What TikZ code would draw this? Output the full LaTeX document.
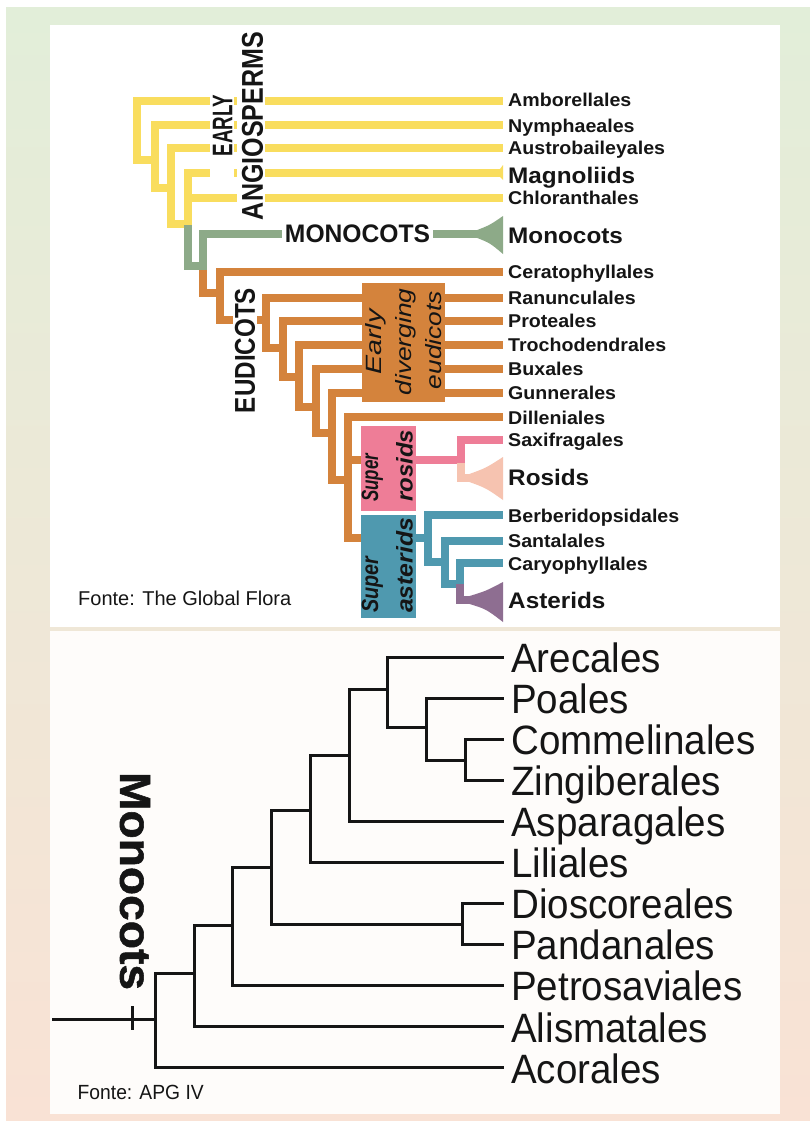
\documentclass[tikz,border=0pt]{standalone}
\usepackage{fontspec}
\usepackage{graphicx}
\setmainfont{Liberation Sans}
\newfontfamily\labfont[FakeStretch=1.06]{Liberation Sans}
\newfontfamily\bigfont[FakeStretch=1.08]{Liberation Sans}
\newfontfamily\narrowfont[FakeStretch=0.94]{Liberation Sans}
\newfontfamily\heavyfont[FakeBold=1.2]{Liberation Sans Bold}

\definecolor{ylw}{HTML}{F9DD5E}
\definecolor{sage}{HTML}{8DAA88}
\definecolor{ochre}{HTML}{D4833C}
\definecolor{rosepk}{HTML}{EE7D97}
\definecolor{salmon}{HTML}{F6C3B0}
\definecolor{tealb}{HTML}{4F99AF}
\definecolor{mauve}{HTML}{8E6E91}
\definecolor{bgtop}{HTML}{E2EED9}
\definecolor{bgmid}{HTML}{EEE7D6}
\definecolor{bgbot}{HTML}{F9E2D5}
\definecolor{panelb}{HTML}{FEFCFA}
\definecolor{ink}{HTML}{151515}

\begin{document}
\begin{tikzpicture}[x=1pt,y=-1pt,
  br/.style={line width=7.5pt, line cap=rect, line join=miter},
  bk/.style={line width=3pt, line cap=rect, line join=miter, draw=ink},
  tiplab/.style={anchor=west, inner sep=0pt, text=ink,
    font=\labfont\bfseries\fontsize{18.5}{19}\selectfont,
    text height=13.2pt, text depth=0pt},
  biglab/.style={tiplab, font=\bigfont\bfseries\fontsize{22.5}{24}\selectfont,
    text height=16.1pt},
  orderlab/.style={anchor=west, inner sep=0pt, text=ink,
    font=\narrowfont\fontsize{41}{44}\selectfont,
    text height=29.4pt, text depth=0pt},
  cladetxt/.style={inner sep=0pt, text=ink},
  boxtxt/.style={rotate=90, inner sep=0pt, text=ink},
  whitegap/.style={fill=white, draw=none}
]
\useasboundingbox (0,0) rectangle (810,1121);

% ---------- background and panels ----------
\fill[white] (0,0) rectangle (810,1121);
\shade[top color=bgtop, middle color=bgmid, bottom color=bgbot] (6,8) rectangle (810,1121);
\fill[white] (50,25) rectangle (780,627);
\fill[panelb] (50,631) rectangle (780,1114);

% ================= upper tree =================
% tip labels
\node[tiplab] (l-ambo)   at (508,100) {Amborellales};
\node[tiplab] (l-nymph)  at (508,126) {Nymphaeales};
\node[tiplab] (l-austro) at (508,148) {Austrobaileyales};
\node[biglab] (l-magn)   at (508,175) {Magnoliids};
\node[tiplab] (l-chlor)  at (508,198) {Chloranthales};
\node[biglab] (l-mono)   at (508,235) {Monocots};
\node[tiplab] (l-cerat)  at (508,272) {Ceratophyllales};
\node[tiplab] (l-ranun)  at (508,298) {Ranunculales};
\node[tiplab] (l-prot)   at (508,321) {Proteales};
\node[tiplab] (l-troch)  at (508,345) {Trochodendrales};
\node[tiplab] (l-bux)    at (508,369) {Buxales};
\node[tiplab] (l-gunn)   at (508,393) {Gunnerales};
\node[tiplab] (l-dill)   at (508,418) {Dilleniales};
\node[tiplab] (l-saxi)   at (508,440) {Saxifragales};
\node[biglab] (l-ros)    at (508,477) {Rosids};
\node[tiplab] (l-berb)   at (508,516) {Berberidopsidales};
\node[tiplab] (l-sant)   at (508,541) {Santalales};
\node[tiplab] (l-cary)   at (508,564) {Caryophyllales};
\node[biglab] (l-ast)    at (508,600) {Asterids};

% branch tips
\coordinate (ambo)   at (499.25,101);
\coordinate (nymph)  at (499.25,125);
\coordinate (austro) at (499.25,148);
\coordinate (magn)   at (496,173);
\coordinate (chlor)  at (499.25,198);
\coordinate (cerat)  at (499.25,272);
\coordinate (ranun)  at (499.25,298);
\coordinate (prot)   at (499.25,321);
\coordinate (troch)  at (499.25,345);
\coordinate (bux)    at (499.25,369);
\coordinate (gunn)   at (499.25,393);
\coordinate (dill)   at (499.25,417);
\coordinate (saxi)   at (499.25,440);
\coordinate (berb)   at (499.25,515);
\coordinate (sant)   at (499.25,541);
\coordinate (cary)   at (499.25,563);
\coordinate (monoapex) at (478,234);
\coordinate (rosapex)  at (470,478);
\coordinate (astapex)  at (470,600);

% inner nodes
\coordinate (A) at (137,130);
\coordinate (B) at (155,160);
\coordinate (C) at (171,188);
\coordinate (D) at (188,224);
\coordinate (Dsplit) at (188,229);
\coordinate (MD) at (203,266);
\coordinate (E) at (220,293);
\coordinate (F) at (266,320);
\coordinate (G) at (283,348);
\coordinate (H) at (299,377);
\coordinate (I) at (316,407);
\coordinate (J) at (332,433);
\coordinate (K) at (348,480);
\coordinate (srin)  at (364,460);
\coordinate (srout) at (414,460);
\coordinate (R1)    at (461,460);
\coordinate (Rsplit) at (461,467);
\coordinate (sain)  at (364,538);
\coordinate (saout) at (414,538);
\coordinate (S1) at (428,538);
\coordinate (S2) at (445,562);
\coordinate (S3) at (460,584);
\coordinate (Asplit) at (460,588);

% early angiosperms
\draw[br,ylw] (ambo) -| (A |- B) -- (B);
\draw[br,ylw] (nymph) -| (B |- C) -- (C);
\draw[br,ylw] (austro) -| (C |- D) -- (D);
\draw[br,ylw] (magn) -| (Dsplit);
\draw[br,ylw] (D |- chlor) -- (chlor);
\fill[ylw] (494,171) .. controls (499,170.5) .. (503,165) -- (503,180)
  .. controls (499,175.5) .. (494,175) -- cycle;

% eudicots
\draw[br,ochre] (MD) -- (MD |- E) -- (E);
\draw[br,ochre] (cerat) -| (E |- F) -- (F);
\draw[br,ochre] (ranun) -| (F |- G) -- (G);
\draw[br,ochre] (prot) -| (G |- H) -- (H);
\draw[br,ochre] (troch) -| (H |- I) -- (I);
\draw[br,ochre] (bux) -| (I |- J) -- (J);
\draw[br,ochre] (gunn) -| (J |- K) -- (K);
\draw[br,ochre] (dill) -| (K |- sain) -- (sain);
\draw[br,ochre] (K |- srin) -- (srin);

% monocots
\draw[br,sage] (Dsplit) -- (D |- MD) -- (MD);
\draw[br,sage] (monoapex) -| (MD);
\fill[sage] (476,230.5) .. controls (490,225) .. (503,216) -- (503,254)
  .. controls (490,243) .. (476,237.5) -- cycle;

% superrosids
\draw[br,rosepk] (srout) -- (R1);
\draw[br,rosepk] (saxi) -| (Rsplit);
\draw[br,salmon] (Rsplit) -- (R1 |- rosapex) -- (rosapex);
\fill[salmon] (468,474.5) .. controls (486,468) .. (503,457) -- (503,500)
  .. controls (486,488) .. (468,481.5) -- cycle;

% superasterids
\draw[br,tealb] (saout) -- (S1);
\draw[br,tealb] (berb) -| (S1 |- S2) -- (S2);
\draw[br,tealb] (sant) -| (S2 |- S3) -- (S3);
\draw[br,tealb] (cary) -| (Asplit);
\draw[br,mauve] (Asplit) -- (S3 |- astapex) -- (astapex);
\fill[mauve] (468,596.5) .. controls (486,591) .. (503,582) -- (503,622)
  .. controls (486,609) .. (468,603.5) -- cycle;

% breaks behind the clade names
\fill[whitegap] (210,91) rectangle (234,180);
\fill[whitegap] (237,28) rectangle (265,224);
\fill[whitegap] (282,224) rectangle (433,244);
\fill[whitegap] (233,285) rectangle (257,416);

% clade names
\node[cladetxt, rotate=90] (early) at (222.5,125.5) {\resizebox{62pt}{19.5pt}{\bfseries EARLY}};
\node[cladetxt, rotate=90] (angio) at (252.5,126) {\resizebox{188pt}{21pt}{\bfseries ANGIOSPERMS}};
\node[cladetxt] (mononame) at (357.5,234) {\resizebox{145pt}{17.7pt}{\bfseries MONOCOTS}};
\node[cladetxt, rotate=90] (eudi) at (245,350.5) {\resizebox{125pt}{20pt}{\bfseries EUDICOTS}};

% coloured group boxes
\node[fill=ochre, minimum width=83pt, minimum height=119pt, inner sep=0pt] (edbox) at (403.5,342.5) {};
\node[fill=rosepk, minimum width=55pt, minimum height=85pt, inner sep=0pt] (srbox) at (388.5,468.5) {};
\node[fill=tealb, minimum width=55pt, minimum height=103pt, inner sep=0pt] (sabox) at (388.5,566.5) {};

\node[boxtxt, anchor=base] (ed1) at (381,342) {\resizebox{65pt}{16pt}{\itshape Early}};
\node[boxtxt, anchor=base] (ed2) at (411,342) {\resizebox{107pt}{16pt}{\itshape diverging}};
\node[boxtxt, anchor=base] (ed3) at (441,340) {\resizebox{98pt}{16pt}{\itshape eudicots}};
\node[boxtxt, anchor=base west] (sr1) at (378,502) {\resizebox{48pt}{16.5pt}{\bfseries\itshape Super}};
\node[boxtxt, anchor=base west] (sr2) at (412.5,502) {\resizebox{72pt}{16.5pt}{\bfseries\itshape rosids}};
\node[boxtxt, anchor=base west] (sa1) at (378,613) {\resizebox{56pt}{16.5pt}{\bfseries\itshape Super}};
\node[boxtxt, anchor=base west] (sa2) at (412.5,613) {\resizebox{95pt}{16.5pt}{\bfseries\itshape asterids}};

\node[anchor=base west, inner sep=0pt, text=ink, font=\fontsize{20}{22}\selectfont] (src1) at (78,605) {Fonte: The Global Flora};

% ================= lower tree =================
\node[orderlab] (o-arec) at (511,658)    {Arecales};
\node[orderlab] (o-poal) at (511,699)    {Poales};
\node[orderlab] (o-comm) at (511,740)    {Commelinales};
\node[orderlab] (o-zing) at (511,781)    {Zingiberales};
\node[orderlab] (o-aspa) at (511,822)    {Asparagales};
\node[orderlab] (o-lili) at (511,863)    {Liliales};
\node[orderlab] (o-dios) at (511,904)    {Dioscoreales};
\node[orderlab] (o-pand) at (511,945)    {Pandanales};
\node[orderlab] (o-petr) at (511,986)    {Petrosaviales};
\node[orderlab] (o-alis) at (511,1027.5) {Alismatales};
\node[orderlab] (o-acor) at (511,1068.5) {Acorales};

\coordinate (arec) at (502.5,657);
\coordinate (poal) at (502.5,698);
\coordinate (comm) at (502.5,739);
\coordinate (zing) at (502.5,780);
\coordinate (aspa) at (502.5,821);
\coordinate (lili) at (502.5,862);
\coordinate (dios) at (502.5,903);
\coordinate (pand) at (502.5,944);
\coordinate (petr) at (502.5,985);
\coordinate (alis) at (502.5,1026.5);
\coordinate (acor) at (502.5,1067.5);

\coordinate (Q1) at (465,760);
\coordinate (Q2) at (426,727);
\coordinate (Q3) at (387,689);
\coordinate (Q4) at (349,755);
\coordinate (Q5) at (310,810);
\coordinate (Q6) at (462,924);
\coordinate (Q7) at (271,867);
\coordinate (Q8) at (232,925);
\coordinate (Q9) at (194,973);
\coordinate (Q10) at (155,1019);
\coordinate (root) at (53.5,1019);
\coordinate (tickt) at (132,1007.5);
\coordinate (tickb) at (132,1028.5);

\draw[bk] (comm) -| (Q1 |- zing) -- (zing);
\draw[bk] (poal) -| (Q2 |- Q1) -- (Q1);
\draw[bk] (arec) -| (Q3 |- Q2) -- (Q2);
\draw[bk] (Q3) -| (Q4 |- aspa) -- (aspa);
\draw[bk] (Q4) -| (Q5 |- lili) -- (lili);
\draw[bk] (dios) -| (Q6 |- pand) -- (pand);
\draw[bk] (Q5) -| (Q7 |- Q6) -- (Q6);
\draw[bk] (Q7) -| (Q8 |- petr) -- (petr);
\draw[bk] (Q8) -| (Q9 |- alis) -- (alis);
\draw[bk] (Q9) -| (Q10 |- acor) -- (acor);
\draw[bk] (root) -- (Q10);
\draw[bk] (tickt) -- (tickb);

\node[cladetxt, rotate=-90] (mononame2) at (135,881) {\resizebox{218pt}{30pt}{\heavyfont Monocots}};

\node[anchor=base west, inner sep=0pt, text=ink, font=\narrowfont\fontsize{20.5}{22}\selectfont] (src2) at (77.5,1099) {Fonte: APG IV};
\end{tikzpicture}
\end{document}
